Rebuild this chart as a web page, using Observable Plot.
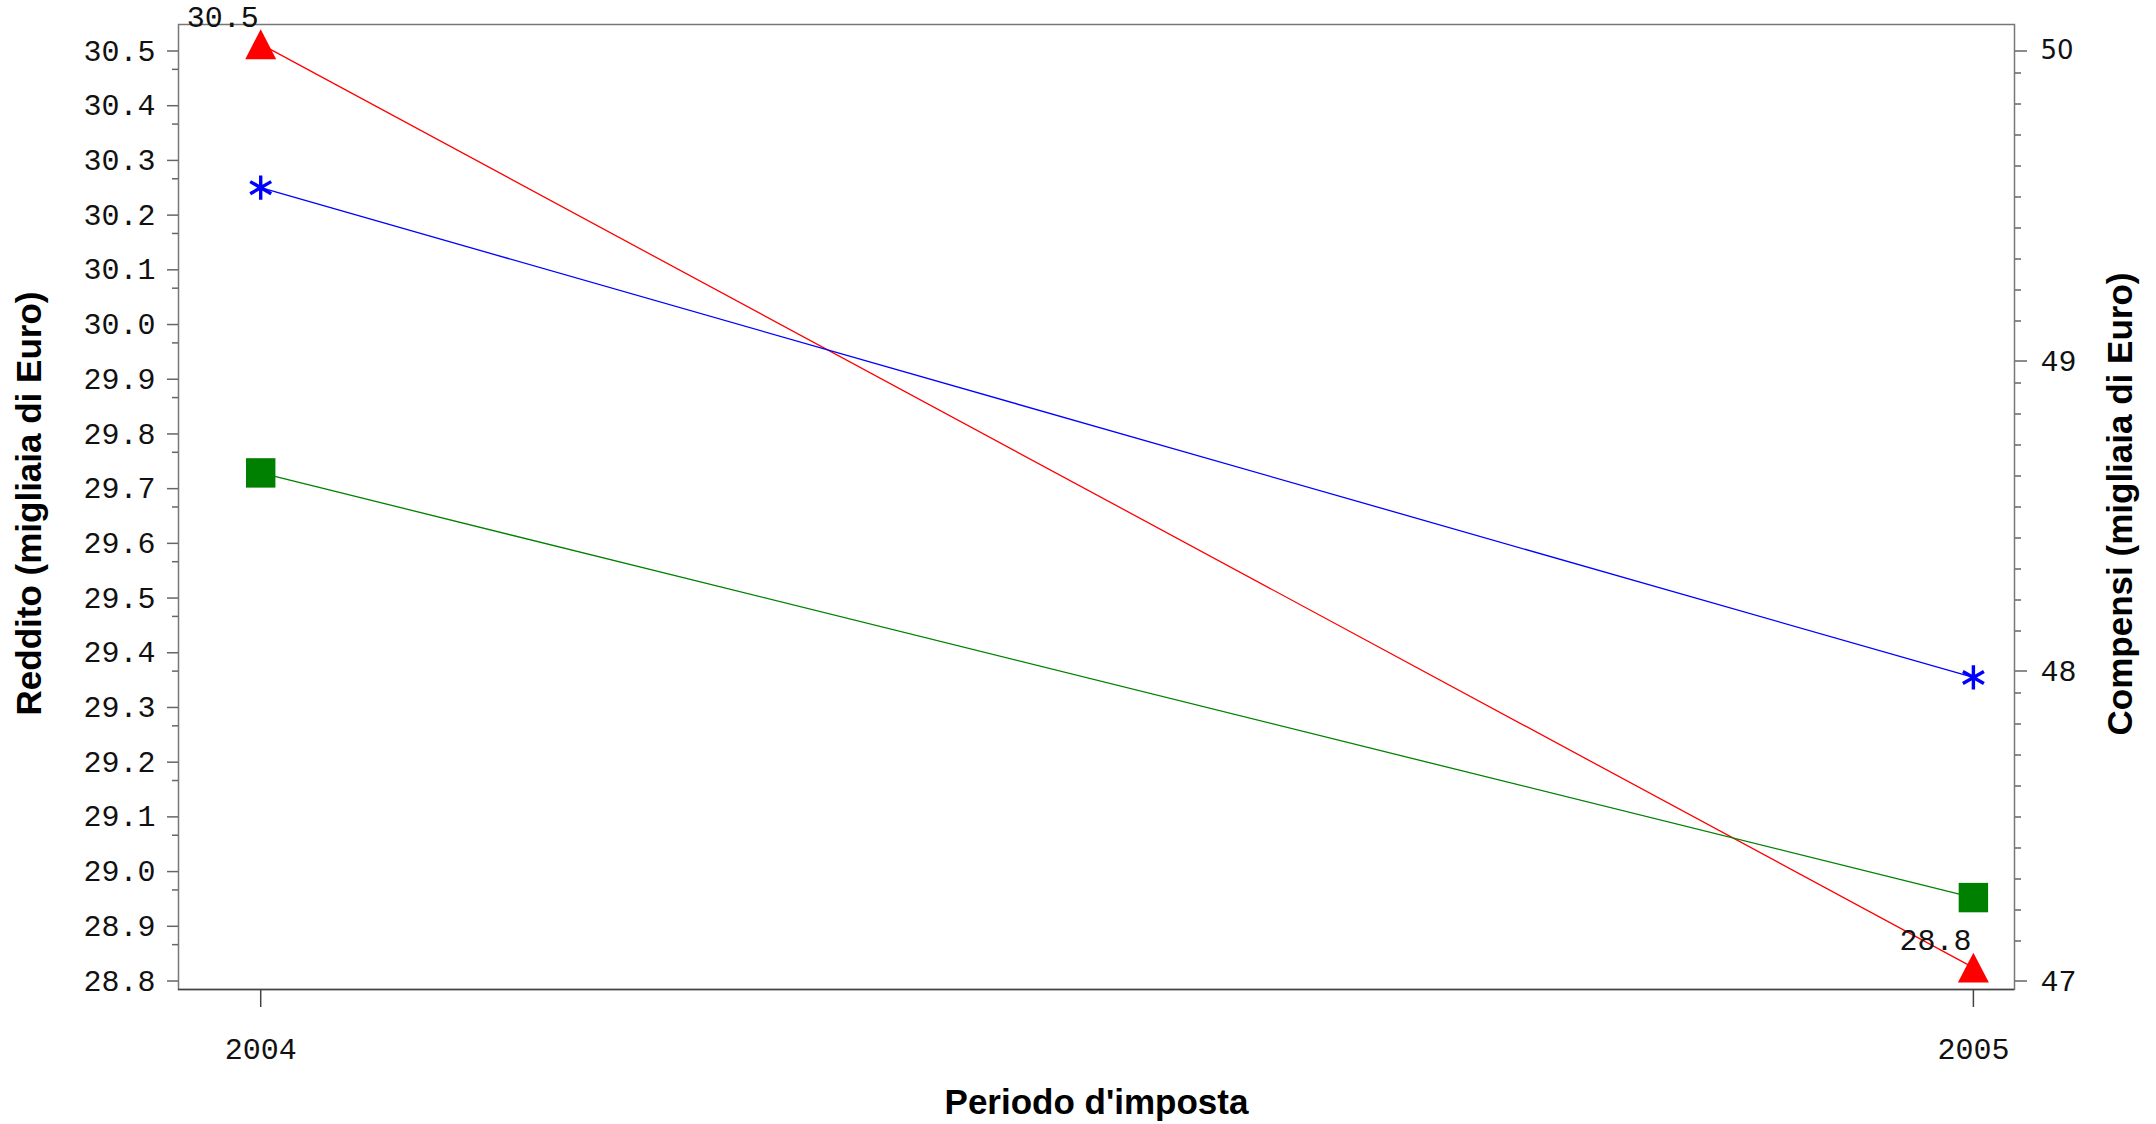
<!DOCTYPE html>
<html><head><meta charset="utf-8">
<script src="https://cdn.jsdelivr.net/npm/d3@7"></script>
<script src="https://cdn.jsdelivr.net/npm/@observablehq/plot@0.6"></script>
<style>body{margin:0;background:#fff}</style>
</head><body><div id="chart"></div>
<script>
// ---- data ----
const years = [2004, 2005];
const reddito = [30.496, 28.808];      // red triangles (left axis, Reddito)
const compensiBlue = [49.53, 47.95];   // blue asterisks (right axis, Compensi)
const compensiGreen = [48.61, 47.24];  // green squares (right axis, Compensi)
const leftTickLabels = ["28.8","28.9","29.0","29.1","29.2","29.3","29.4","29.5","29.6","29.7","29.8","29.9","30.0","30.1","30.2","30.3","30.4","30.5"];
const rightTickLabels = ["47","48","49","50"];
const xTickLabels = ["2004","2005"];
const titleLeft = "Reddito (migliaia di Euro)";
const titleRight = "Compensi (migliaia di Euro)";
const titleX = "Periodo d'imposta";

// ---- scales helpers ----
const leftMajor = leftTickLabels.map(Number);
const rightMajor = rightTickLabels.map(Number);
const xTicks = xTickLabels.map(Number);
const r2l = d3.scaleLinear().domain([47, 50]).range([28.8, 30.5]);
const leftMinor = leftMajor.slice(0, -1).map((v, i) => (v + leftMajor[i + 1]) / 2);
const rightMinor = d3.range(470, 501).map(v => v / 10).filter(v => !rightMajor.includes(v)).map(r2l);

const rows = [];
years.forEach((yr, i) => {
  rows.push({year: yr, value: reddito[i], series: "red"});
  rows.push({year: yr, value: r2l(compensiBlue[i]), series: "blue"});
  rows.push({year: yr, value: r2l(compensiGreen[i]), series: "green"});
});
const S = s => rows.filter(d => d.series === s);

const triangle = {draw(ctx, size) {
  const s = Math.sqrt(size), h = s / 2, w = s * 0.517;
  ctx.moveTo(0, -h); ctx.lineTo(w, h); ctx.lineTo(-w, h); ctx.closePath();
}};

const mono = "Liberation Mono, Courier New, monospace";
const sans = "Liberation Sans, Arial, Helvetica, sans-serif";

const chart = Plot.plot({
  width: 2156, height: 1124,
  marginLeft: 178, marginRight: 142, marginTop: 24, marginBottom: 135,
  style: {background: "#fff", fontFamily: mono, fontSize: "30px", color: "#000", overflow: "visible"},
  x: {type: "linear", domain: [2003.952, 2005.024], label: null, axis: null},
  y: {domain: [28.768, 30.532], label: null, axis: null},
  marks: [
    Plot.frame({stroke: "#777", strokeWidth: 1.5}),
    Plot.ruleY([28.768], {stroke: "#444", strokeWidth: 1.5}),
    // left axis
    Plot.axisY(leftMajor, {anchor: "left", tickSize: 11, tickPadding: 12, stroke: "#666", strokeWidth: 1.5, fill: "#111",
      tickFormat: d => d.toFixed(1), fontFamily: mono, fontSize: 30, dy: 9, label: null}),
    Plot.axisY(leftMinor, {anchor: "left", tickSize: 6, stroke: "#666", strokeWidth: 1.5, tickFormat: () => "", label: null}),
    // right axis
    Plot.axisY(rightMajor.map(r2l), {anchor: "right", tickSize: 12, tickPadding: 14, stroke: "#666", strokeWidth: 1.5, fill: "#111",
      tickFormat: d => String(Math.round(r2l.invert(d))), fontFamily: mono, fontSize: 30, dy: 9, label: null}),
    Plot.axisY(rightMinor, {anchor: "right", tickSize: 6, stroke: "#666", strokeWidth: 1.5, tickFormat: () => "", label: null}),
    // x axis
    Plot.axisX(xTicks, {anchor: "bottom", tickSize: 18, tickPadding: 30, stroke: "#444", strokeWidth: 1.5, fill: "#111",
      tickFormat: d => String(d), fontFamily: mono, fontSize: 30, label: null}),
    // lines
    Plot.line(S("red"), {x: "year", y: "value", stroke: "#ff0000", strokeWidth: 1.3}),
    Plot.line(S("blue"), {x: "year", y: "value", stroke: "#0000ff", strokeWidth: 1.3}),
    Plot.line(S("green"), {x: "year", y: "value", stroke: "#008000", strokeWidth: 1.3}),
    // markers
    Plot.dot(S("green"), {x: "year", y: "value", symbol: "square", r: 16.6, fill: "#008000", stroke: "none"}),
    Plot.dot(S("blue"), {x: "year", y: "value", symbol: "asterisk", r: 11.5, stroke: "#0000ff", strokeWidth: 3.4}),
    Plot.dot(S("red"), {x: "year", y: "value", symbol: triangle, r: 16.9, fill: "#ff0000", stroke: "none"}),
    // data labels
    Plot.text(S("red"), {x: "year", y: "value", text: d => d.value.toFixed(1), textAnchor: "end", dx: -2, dy: -27,
      fontFamily: mono, fontSize: 30, fill: "#111"}),
    // titles
    Plot.text([titleLeft], {frameAnchor: "left", text: d => d, rotate: -90, textAnchor: "middle", dx: -148.5, dy: -3.5,
      fontFamily: sans, fontWeight: "bold", fontSize: 35, fill: "#000"}),
    Plot.text([titleRight], {frameAnchor: "right", text: d => d, rotate: -90, textAnchor: "middle", dx: 106, dy: -3,
      fontFamily: sans, fontWeight: "bold", fontSize: 35, fill: "#000"}),
    Plot.text([titleX], {frameAnchor: "bottom", text: d => d, textAnchor: "middle", dx: 0, dy: 124,
      fontFamily: sans, fontWeight: "bold", fontSize: 35, fill: "#000"})
  ]
});
// the "50" label on the right axis is drawn in a sans face in the original
d3.select(chart).selectAll("text").filter(function() { return this.textContent === "50"; })
  .attr("font-family", "DejaVu Sans").attr("font-size", 26);
document.getElementById("chart").appendChild(chart);
</script>
</body></html>
